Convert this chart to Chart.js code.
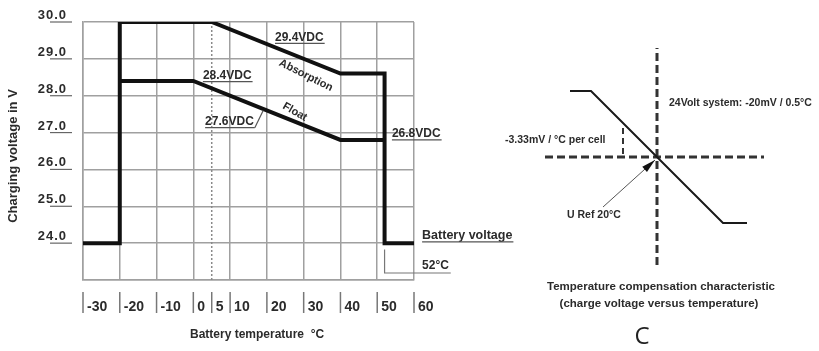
<!DOCTYPE html>
<html>
<head>
<meta charset="utf-8">
<script src="https://cdn.jsdelivr.net/npm/chart.js@4/dist/chart.umd.min.js"></script>
<style>
  html, body { margin: 0; padding: 0; background: #fff; }
  #wrap { position: relative; width: 819px; height: 351px; overflow: hidden; }
  #left { position: absolute; left: 0; top: 0; }
  #right { position: absolute; left: 490px; top: 0; }
</style>
</head>
<body>
<div id="wrap">
  <canvas id="left" width="540" height="351"></canvas>
  <canvas id="right" width="329" height="351"></canvas>
</div>
<script>
// Left chart: charging voltage vs battery temperature
const absorptionTemp = [-30, -20, -20, 5, 40, 52, 52, 60];
const absorptionVolt = [24, 24, 30, 30, 28.6, 28.6, 24, 24];
const floatTemp = [-20, 0, 40, 52];
const floatVolt = [28.4, 28.4, 26.8, 26.8];
const refTemp = [5, 5];            // dotted reference line at 5°C
const refVolt = [23, 30];
const cutoffTemp = [52, 52, 70];   // 52°C marker, runs under its label
const cutoffVolt = [23.83, 23.19, 23.19];

const xTicks = [-30, -20, -10, 0, 5, 10, 20, 30, 40, 50, 60];
const yTicks = [24, 25, 26, 27, 28, 29, 30];

// Right chart: temperature compensation (schematic)
const compTemp = [-23.5, -13, 53, 65];
const compVolt = [33, 33, -33, -33];
const axisVTemp = [20, 20];
const axisVVolt = [-54, 54.5];
const axisHTemp = [-36, 73.5];
const axisHVolt = [0, 0];
const bracketTemp = [3, 3];
const bracketVolt = [14.5, 0];
const arrowTemp = [-7, 19];
const arrowVolt = [-25, -1.5];

const FONT = '"Liberation Sans", Arial, sans-serif';
const TEXT = '#2b2b2b';

const pts = (xs, ys) => xs.map((v, i) => ({ x: v, y: ys[i] }));

function seg(ctx, x1, y1, x2, y2, color, w) {
  ctx.beginPath();
  ctx.strokeStyle = color;
  ctx.lineWidth = w;
  ctx.moveTo(x1, y1);
  ctx.lineTo(x2, y2);
  ctx.stroke();
}

// text with an underline
function underlined(ctx, text, px, py, font) {
  ctx.font = font;
  ctx.textAlign = 'left';
  ctx.textBaseline = 'alphabetic';
  ctx.fillText(text, px, py);
  const w = ctx.measureText(text).width;
  seg(ctx, px, py + 2.5, px + w + 1, py + 2.5, '#555', 1.2);
  return w;
}

const leftLabels = {
  id: 'leftLabels',
  afterDraw(chart) {
    const { ctx, scales: { x, y } } = chart;
    const X = t => x.getPixelForValue(t);
    const Y = v => y.getPixelForValue(v);
    ctx.save();
    ctx.fillStyle = TEXT;

    // y tick labels with short underline
    ctx.font = 'bold 13px ' + FONT;
    ctx.letterSpacing = '1px';
    ctx.textAlign = 'right';
    ctx.textBaseline = 'alphabetic';
    yTicks.forEach(v => {
      const py = Y(v);
      ctx.fillText(v.toFixed(1), 67, py - 3);
      seg(ctx, 50, py, 72, py, '#666', 1.2);
    });
    ctx.letterSpacing = '0px';

    // x tick labels "|-30"
    ctx.font = 'bold 14px ' + FONT;
    ctx.textAlign = 'left';
    xTicks.forEach(t => {
      const px = X(t);
      seg(ctx, px, 292, px, 313, '#777', 1.5);
      ctx.fillText(String(t), px + 4, 311);
    });

    // axis titles
    ctx.font = 'bold 12px ' + FONT;
    ctx.fillText('Battery temperature  \u00b0C', 190, 338);
    ctx.save();
    ctx.translate(17, 156);
    ctx.rotate(-Math.PI / 2);
    ctx.font = 'bold 13px ' + FONT;
    ctx.textAlign = 'center';
    ctx.fillText('Charging voltage in V', 0, 0);
    ctx.restore();

    // value annotations
    const f12 = 'bold 12px ' + FONT;
    underlined(ctx, '29.4VDC', X(22.2), Y(29.49), f12);
    underlined(ctx, '28.4VDC', X(2.6), Y(28.45), f12);
    const w = underlined(ctx, '27.6VDC', X(3.2), Y(27.2), f12);
    seg(ctx, X(3.2) + w + 1, Y(27.2) + 2.5, X(19), Y(27.6), '#555', 1.2);
    underlined(ctx, '26.8VDC', X(54), Y(26.87), f12);
    underlined(ctx, 'Battery voltage', X(62.2), Y(24.1), 'bold 12.5px ' + FONT);
    ctx.font = f12;
    ctx.fillText('52\u00b0C', X(62.2), Y(23.19) - 3.5);

    // rotated curve names
    ctx.font = 'bold 11px ' + FONT;
    ctx.textAlign = 'center';
    ctx.textBaseline = 'middle';
    [['Absorption', 30.6, 28.55, 26.6], ['Float', 27.6, 27.56, 30]].forEach(([s, t, v, a]) => {
      ctx.save();
      ctx.translate(X(t), Y(v));
      ctx.rotate(a * Math.PI / 180);
      ctx.fillText(s, 0, 0);
      ctx.restore();
    });
    ctx.restore();
  }
};

new Chart(document.getElementById('left'), {
  type: 'line',
  data: {
    datasets: [
      { label: 'Absorption', data: pts(absorptionTemp, absorptionVolt), borderColor: '#111', borderWidth: 4 },
      { label: 'Float', data: pts(floatTemp, floatVolt), borderColor: '#111', borderWidth: 4 },
      { label: '5 C', data: pts(refTemp, refVolt), borderColor: '#8a8a8a', borderWidth: 1.5, borderDash: [2, 2] },
      { label: '52 C', data: pts(cutoffTemp, cutoffVolt), borderColor: '#777', borderWidth: 1.2, clip: false }
    ]
  },
  options: {
    responsive: false,
    animation: false,
    events: [],
    layout: { padding: { top: 22, right: 126, left: 0, bottom: 0 } },
    elements: {
      point: { radius: 0 },
      line: { tension: 0, fill: false, borderCapStyle: 'butt', borderJoinStyle: 'miter' }
    },
    plugins: { legend: { display: false }, tooltip: { enabled: false } },
    scales: {
      x: {
        type: 'linear', min: -30, max: 60,
        ticks: { stepSize: 10, display: false },
        grid: { color: '#a0a0a0', lineWidth: 1.5, drawTicks: false },
        border: { color: '#a0a0a0', width: 1.5 },
        afterFit: s => { s.height = 71; }
      },
      y: {
        type: 'linear', min: 23, max: 30,
        ticks: { stepSize: 1, display: false },
        grid: { color: '#a0a0a0', lineWidth: 1.5, drawTicks: false },
        border: { color: '#a0a0a0', width: 1.5 },
        afterFit: s => { s.width = 83; }
      }
    }
  },
  plugins: [leftLabels]
});

const rightLabels = {
  id: 'rightLabels',
  afterDraw(chart) {
    const { ctx } = chart;
    ctx.save();
    // arrowhead at the end of the arrow dataset
    const meta = chart.getDatasetMeta(4).data;
    const a = meta[0], b = meta[1];
    const ang = Math.atan2(b.y - a.y, b.x - a.x);
    ctx.translate(b.x, b.y);
    ctx.rotate(ang);
    ctx.beginPath();
    ctx.moveTo(0, 0);
    ctx.lineTo(-14, -3.5);
    ctx.lineTo(-14, 3.5);
    ctx.closePath();
    ctx.fillStyle = '#111';
    ctx.fill();
    ctx.setTransform(1, 0, 0, 1, 0, 0);

    ctx.fillStyle = TEXT;
    ctx.textBaseline = 'middle';
    ctx.textAlign = 'left';
    ctx.font = 'bold 10.5px ' + FONT;
    ctx.fillText('24Volt system: -20mV / 0.5\u00b0C', 179, 103);
    ctx.fillText('-3.33mV / \u00b0C per cell', 15, 140);
    ctx.fillText('U Ref 20\u00b0C', 77, 215);

    ctx.textAlign = 'center';
    ctx.font = 'bold 11.5px ' + FONT;
    ctx.fillText('Temperature compensation characteristic', 171, 287);
    ctx.fillText('(charge voltage versus temperature)', 169, 304);

    ctx.fillStyle = '#222';
    ctx.font = '24px "Open Sans", "Noto Sans", sans-serif';
    ctx.fillText('C', 152, 337);
    ctx.restore();
  }
};

new Chart(document.getElementById('right'), {
  type: 'line',
  data: {
    datasets: [
      { data: pts(compTemp, compVolt), borderColor: '#1a1a1a', borderWidth: 2 },
      { data: pts(axisVTemp, axisVVolt), borderColor: '#333', borderWidth: 3, borderDash: [8, 4] },
      { data: pts(axisHTemp, axisHVolt), borderColor: '#333', borderWidth: 3, borderDash: [8, 4] },
      { data: pts(bracketTemp, bracketVolt), borderColor: '#333', borderWidth: 2, borderDash: [6, 4] },
      { data: pts(arrowTemp, arrowVolt), borderColor: '#555', borderWidth: 1 }
    ]
  },
  options: {
    responsive: false,
    animation: false,
    events: [],
    layout: { padding: { top: 48, right: 50, left: 55, bottom: 86 } },
    elements: {
      point: { radius: 0 },
      line: { tension: 0, fill: false, borderCapStyle: 'butt', borderJoinStyle: 'miter' }
    },
    plugins: { legend: { display: false }, tooltip: { enabled: false } },
    scales: {
      x: { type: 'linear', min: -36, max: 76, display: false },
      y: { type: 'linear', min: -54, max: 54.5, display: false }
    }
  },
  plugins: [rightLabels]
});
</script>
</body>
</html>
